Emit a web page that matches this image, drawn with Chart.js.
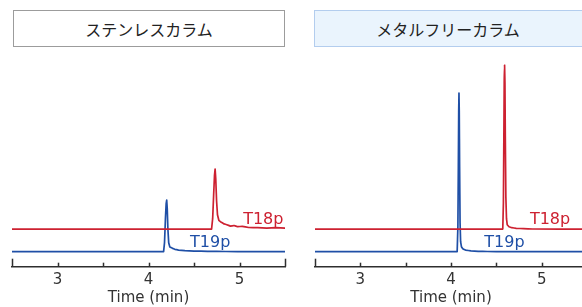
<!DOCTYPE html>
<html>
<head>
<meta charset="utf-8">
<script src="https://cdn.jsdelivr.net/npm/chart.js@4.4.0/dist/chart.umd.min.js"></script>
<style>
  body { margin: 0; width: 582px; height: 307px; overflow: hidden; background: #fff; position: relative; }
  .box { position: absolute; top: 10px; height: 35px; box-sizing: content-box; z-index: 2;
         font-family: "Noto Sans CJK JP", sans-serif; font-size: 16px; color: #222;
         display: flex; align-items: center; justify-content: center; }
  #box1 { left: 13px; width: 270px; border: 1px solid #9c9c9c; background: #fff; }
  #box2 { left: 314px; width: 276px; border: 1px solid #b3cdee; background: #eaf4fd; padding-right: 0; }
  #box2 span { margin-left: -10px; }
  .wrap { position: absolute; top: 0; width: 300px; height: 307px; }
</style>
</head>
<body>
<div class="box" id="box1"><span>ステンレスカラム</span></div>
<div class="box" id="box2"><span>メタルフリーカラム</span></div>
<div class="wrap" style="left:0"><canvas id="c1"></canvas></div>
<div class="wrap" style="left:300px"><canvas id="c2"></canvas></div>
<script>
// time (min) and signal
var leftBlueX = [2.5, 4.166, 4.176, 4.186, 4.194, 4.2, 4.206, 4.213, 4.222, 4.234, 4.26, 4.29, 4.33, 4.4, 4.5, 4.65, 4.85, 5.1, 5.5];
var leftBlueY = [7.5, 7.5, 12, 24, 31.5, 33.3, 29, 19, 12, 9.9, 9.3, 8.7, 8.3, 8.0, 7.8, 7.7, 7.6, 7.55, 7.5];
var leftRedX = [2.5, 4.693, 4.705, 4.716, 4.725, 4.732, 4.739, 4.748, 4.758, 4.773, 4.8, 4.83, 4.86, 4.9, 4.94, 4.98, 5.03, 5.1, 5.2, 5.3, 5.4, 5.5];
var leftRedY = [18.8, 18.8, 24, 36, 45.5, 48.8, 44, 33, 26, 23.2, 22.2, 21.4, 21.0, 20.3, 20.6, 20.0, 20.2, 19.6, 19.5, 19.3, 19.5, 19.3];
var rightBlueX = [2.5, 4.068, 4.076, 4.081, 4.085, 4.088, 4.091, 4.095, 4.1, 4.106, 4.115, 4.13, 4.16, 4.22, 4.3, 4.4, 4.6, 5.5];
var rightBlueY = [7.5, 7.5, 20, 50, 78, 86.8, 78, 50, 22, 12.5, 10, 9.0, 8.3, 7.9, 7.7, 7.6, 7.55, 7.5];
var rightRedX = [2.5, 4.571, 4.578, 4.583, 4.587, 4.591, 4.595, 4.599, 4.605, 4.612, 4.62, 4.64, 4.67, 4.72, 4.8, 4.9, 5.5];
var rightRedY = [18.8, 18.8, 32, 65, 92, 100.8, 92, 65, 35, 24, 21, 20, 19.5, 19.2, 19.0, 18.85, 18.8];
var tickLabels = ['3', '4', '5'];
var seriesNames = ['T18p', 'T19p'];

var RED = '#cd2131';
var BLUE = '#1f4fa6';

function pts(xs, ys) {
  var out = [];
  for (var i = 0; i < xs.length; i++) out.push({x: xs[i], y: ys[i]});
  return out;
}

// upward tick marks + series name labels
var extras = {
  id: 'extras',
  afterDraw: function(chart, args, opts) {
    var ctx = chart.ctx;
    var xs = chart.scales.x, ys = chart.scales.y;
    var yb = chart.chartArea.bottom;
    ctx.save();
    ctx.strokeStyle = '#2e2e2e';
    ctx.lineWidth = 1.5;
    xs.ticks.forEach(function(t, i) {
      var px = Math.round(xs.getPixelForValue(t.value)) + 0.5;
      var len = (t.value === xs.min || t.value === xs.max) ? 8 : 4;
      ctx.beginPath();
      ctx.moveTo(px, yb);
      ctx.lineTo(px, yb - len);
      ctx.stroke();
    });
    ctx.font = '16px "DejaVu Sans"';
    ctx.textBaseline = 'alphabetic';
    opts.labels.forEach(function(l) {
      ctx.fillStyle = l.color;
      ctx.fillText(l.text, xs.getPixelForValue(l.x), ys.getPixelForValue(l.y));
    });
    ctx.restore();
  }
};

function makeChart(id, redX, redY, blueX, blueY, padL, padR, labelPos) {
  return new Chart(document.getElementById(id), {
    type: 'line',
    data: {
      datasets: [
        { label: seriesNames[0], data: pts(redX, redY), borderColor: RED, borderWidth: 1.7 },
        { label: seriesNames[1], data: pts(blueX, blueY), borderColor: BLUE, borderWidth: 1.7 }
      ]
    },
    options: {
      responsive: false,
      animation: false,
      events: [],
      // tiny tension keeps Chart.js off its per-pixel fast path, which split the thin peaks
      elements: { point: { radius: 0 }, line: { tension: 0.0001, borderJoinStyle: 'round', borderCapStyle: 'round' } },
      layout: { padding: { left: padL, right: padR, top: 56.7, bottom: 0 } },
      plugins: {
        legend: { display: false },
        tooltip: { enabled: false },
        extras: {
          labels: [
            { text: seriesNames[0], color: RED, x: labelPos[0], y: labelPos[1] },
            { text: seriesNames[1], color: BLUE, x: labelPos[2], y: labelPos[3] }
          ]
        }
      },
      scales: {
        x: {
          type: 'linear',
          min: 2.5, max: 5.5,
          afterFit: function(s) { s.height = 40.3; },
          grid: { display: false, drawTicks: false },
          border: { display: true, color: '#2e2e2e', width: 1.5 },
          ticks: {
            stepSize: 0.5, padding: 4, color: '#333',
            font: { family: 'DejaVu Sans', size: 15 },
            maxRotation: 0,
            callback: function(v) {
              var i = tickLabels.indexOf(String(v));
              return i >= 0 ? tickLabels[i] : '';
            }
          },
          title: {
            display: true, text: 'Time (min)', color: '#333',
            font: { family: 'DejaVu Sans', size: 15 },
            padding: { top: 0, bottom: 0 }
          }
        },
        y: { display: false, min: 0, max: 105 }
      }
    },
    plugins: [extras]
  });
}

document.getElementById('c1').width = 300;
document.getElementById('c1').height = 307;
document.getElementById('c2').width = 300;
document.getElementById('c2').height = 307;

makeChart('c1', leftRedX, leftRedY, leftBlueX, leftBlueY, 12, 15, [5.04, 21.35, 4.456, 10]);
makeChart('c2', rightRedX, rightRedY, rightBlueX, rightBlueY, 15, 13, [4.87, 21.35, 4.367, 10]);
</script>
</body>
</html>
